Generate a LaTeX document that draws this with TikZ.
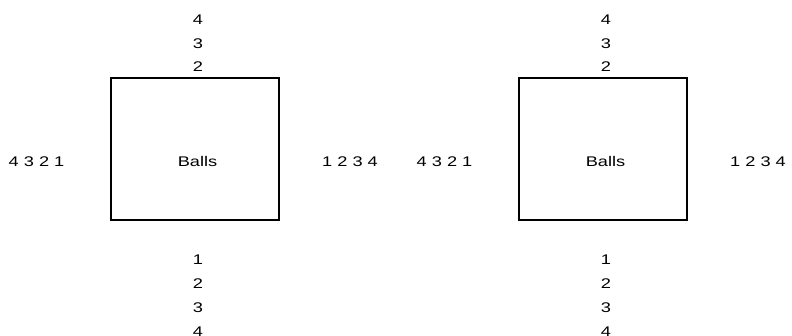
\documentclass[tikz,border=0pt]{standalone}
\usepackage{fontspec}
\setmainfont{Liberation Sans}[FakeStretch=1.3]
\usetikzlibrary{positioning}

\begin{document}
\begin{tikzpicture}[x=1pt, y=-1pt,
    every node/.style={font=\fontsize{14}{16}\selectfont, inner sep=0pt, anchor=base}]
  \useasboundingbox (0,0) rectangle (792,336);

  \foreach \dx/\s in {0/L, 408/R} {
    \begin{scope}[xshift=\dx pt]
      % Box of balls
      \draw[line width=1.3pt] (111,78) rectangle (279,220);
      \node (balls\s) at (197.5,167) {Balls};

      % Stack above the box
      \foreach \n [count=\i] in {2,3,4}
        \node (top\s\n) at (198,{71.7-23.5*(\i-1)}) {\n};

      % Stack below the box
      \foreach \n [count=\i] in {1,2,3,4}
        \node (bot\s\n) at (198,{265+23.7*(\i-1)}) {\n};

      % Rows to the left and right
      \node (left\s) at (36.5,167) {4 3 2 1};
      \node (right\s) at (350,167) {1 2 3 4};
    \end{scope}
  }
\end{tikzpicture}
\end{document}
